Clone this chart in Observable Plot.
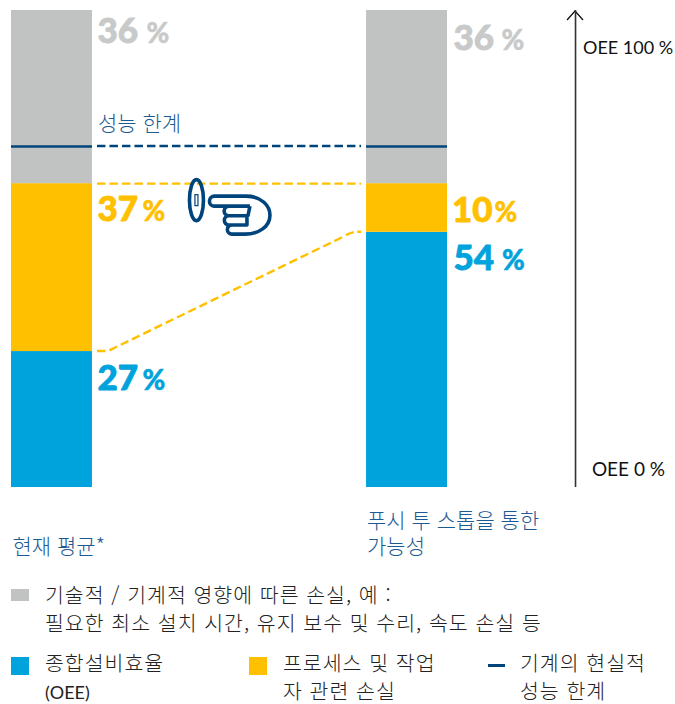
<!DOCTYPE html>
<html lang="ko">
<head>
<meta charset="utf-8">
<script src="https://cdn.jsdelivr.net/npm/d3@7"></script>
<script src="https://cdn.jsdelivr.net/npm/@observablehq/plot@0.6"></script>
<style>
html,body{margin:0;padding:0;background:#fff;overflow:hidden}
#chart svg{display:block;max-width:none}
#legend{position:relative;width:675px;height:134px;font-family:"Noto Sans CJK KR",sans-serif;font-weight:300;font-size:20.5px;letter-spacing:1px;color:#222;line-height:28px}
#legend .t{position:absolute;white-space:nowrap}
#legend .s{position:absolute}
</style>
</head>
<body>
<div id="chart"></div>
<div id="legend"></div>
<script>
// DATA
const scenarios = ["현재 평균*", "푸시 투 스톱을 통한 가능성"];
const parts = ["종합설비효율", "프로세스 및 작업자 관련 손실", "기술적 / 기계적 손실"];
const drawnCurrent = [28.5, 35.2, 36.3];
const drawnPossible = [53.5, 10.2, 36.3];
const printedCurrent = [27, 37, 36];
const printedPossible = [54, 10, 36];
const performanceLimit = 71.5;
const colors = ["#00a3db", "#ffc000", "#c1c3c3"];
const labelColors = ["#00a3db", "#ffc000", "#c8caca"];
const navy = "#00447c";
const captionBlue = "#1d5a92";

const rows = scenarios.flatMap((s, i) => parts.map((p, j) => ({
  scenario: s, part: p,
  value: (i ? drawnPossible : drawnCurrent)[j],
  printed: (i ? printedPossible : printedCurrent)[j],
  top: d3.sum((i ? drawnPossible : drawnCurrent).slice(0, j + 1)),
  color: labelColors[j]
})));

const W = 675, SVGH = 570;
const numFont = "Lato, sans-serif";
const krFont = '"Noto Sans CJK KR", sans-serif';

// text placement: [number dx, percent dx, baseline dy] relative to band centre / segment top
const place = [
  [45.5, 90.5, 38], [45.5, 90.5, 37], [45.5, 94.5, 32],
  [46.5, 95, 38], [45, 87.5, 38], [46.5, 94.5, 39]
];
const labelMarks = rows.flatMap((r, i) => [
  Plot.text([r], {x: "scenario", y: "top", text: d => d.printed, fill: "color", stroke: "color", strokeWidth: 0.8, dx: place[i][0], dy: place[i][2],
    textAnchor: "start", lineAnchor: "bottom", fontFamily: numFont, fontWeight: 900, fontSize: 35, style: {letterSpacing: "-0.5px"}}),
  Plot.text([r], {x: "scenario", y: "top", text: () => "%", fill: "color", stroke: "color", strokeWidth: 0.5, dx: place[i][1], dy: place[i][2],
    textAnchor: "start", lineAnchor: "bottom", fontFamily: numFont, fontWeight: 900, fontSize: 27.5})
]);

function connectors(index, scales) {
  const x = scales.x, y = scales.y, bw = x.bandwidth();
  const xa = x(scenarios[0]) + bw + 5, xb = x(scenarios[1]) - 5;
  const g = d3.create("svg:g").attr("fill", "none");
  const topYellow = d3.sum(drawnCurrent.slice(0, 2));
  g.append("line").attr("x1", xa).attr("x2", xb).attr("y1", y(performanceLimit)).attr("y2", y(performanceLimit))
    .attr("stroke", navy).attr("stroke-width", 2.6).attr("stroke-dasharray", "8.5 4");
  g.append("line").attr("x1", xa).attr("x2", xb).attr("y1", y(topYellow) + 0.5).attr("y2", y(topYellow) + 0.5)
    .attr("stroke", colors[1]).attr("stroke-width", 2.4).attr("stroke-dasharray", "8.5 4");
  const ya = y(drawnCurrent[0]), yb = y(drawnPossible[0]);
  g.append("path")
    .attr("d", `M${xa},${ya}H${xa + 7}Q${xa + 11},${ya} ${xa + 15},${ya - 2}L${xb - 20},${yb + 6}Q${xb - 10},${yb} ${xb - 5},${yb}H${xb}`)
    .attr("stroke", colors[1]).attr("stroke-width", 2.4).attr("stroke-dasharray", "8.5 4");
  // pointing hand icon
  const hand = g.append("g").attr("stroke", navy).attr("stroke-width", 3.6)
    .attr("transform", `translate(${x(scenarios[0]) + bw - 92},${y(topYellow) - 184})`);
  hand.append("ellipse").attr("cx", 196.5).attr("cy", 201).attr("rx", 7).attr("ry", 20.5);
  hand.append("rect").attr("x", 195).attr("y", 195.5).attr("width", 3).attr("height", 11).attr("stroke-width", 1.2);
  hand.append("path").attr("d",
    "M246,197H214.5a4.7,4.7 0 0 0 0,10H250" +
    "M246,197C262,197 270,207 270,216C270,228 258,235 245,235H232a4.5,4.5 0 0 1 0,-9.2H246" +
    "M250,207L248,216.6H229a4.8,4.8 0 0 1 0,-9.6" +
    "M247,216.6V225.8H229a4.6,4.6 0 0 1 0,-9.2").attr("stroke-linejoin","round");
  // axis arrowhead
  const ax = x(scenarios[1]) + bw / 2 + 168.5;
  g.append("path").attr("d", `M${ax - 8},${y(100) + 10}L${ax},${y(100) + 1}L${ax + 8},${y(100) + 10}`)
    .attr("stroke", "#111").attr("stroke-width", 1.3);
  return g.node();
}

const kr = {textAnchor: "start", lineAnchor: "bottom", fontFamily: krFont, fontWeight: 300, fontSize: 21, fill: captionBlue, style: {letterSpacing: "1.5px"}};
const chart = Plot.plot({
  width: W, height: SVGH, margin: 0,
  style: {background: "#fff", overflow: "visible"},
  x: {domain: scenarios, range: [11, 447], paddingInner: 0.772, paddingOuter: 0, round: false, axis: null},
  y: {domain: [0, 100], range: [487, 10], axis: null},
  color: {domain: parts, range: colors},
  marks: [
    Plot.barY(rows, {x: "scenario", y: "value", fill: "part", order: parts}),
    Plot.tickY(scenarios, {x: d => d, y: () => performanceLimit, stroke: navy, strokeWidth: 2.6}),
    connectors,
    Plot.ruleX([scenarios[1]], {x: d => d, y1: 0, y2: 100, dx: 168.5, stroke: "#333", strokeWidth: 1.6}),
    Plot.text(["OEE 100 %"], {x: () => scenarios[1], y: () => 100, dx: 176, dy: 43, textAnchor: "start", lineAnchor: "bottom", fontFamily: numFont, fontSize: 18, fill: "#111"}),
    Plot.text(["OEE 0 %"], {x: () => scenarios[1], y: () => 0, dx: 258, dy: -12, textAnchor: "end", lineAnchor: "bottom", fontFamily: numFont, fontSize: 19, fill: "#111"}),
    Plot.text(["성능 한계"], {...kr, x: () => scenarios[0], y: () => performanceLimit, dx: 46, dy: -15}),
    Plot.text(["현재 평균*"], {...kr, x: () => scenarios[0], y: () => 0, dx: -39.5, dy: 66}),
    Plot.text(["푸시 투 스톱을 통한"], {...kr, x: () => scenarios[1], y: () => 0, dx: -40, dy: 40}),
    Plot.text(["가능성"], {...kr, x: () => scenarios[1], y: () => 0, dx: -40, dy: 66}),
    ...labelMarks
  ]
});
document.getElementById("chart").append(chart);

const legend = document.getElementById("legend");
const top0 = SVGH;
function sq(x, y, w, h, c) {
  const d = document.createElement("div"); d.className = "s";
  d.style.cssText = `left:${x}px;top:${y - top0}px;width:${w}px;height:${h}px;background:${c}`;
  legend.append(d);
}
function tx(x, y, html) {
  const d = document.createElement("div"); d.className = "t";
  d.style.cssText = `left:${x}px;top:${y - top0}px`;
  d.innerHTML = html; legend.append(d);
}
sq(11, 589, 18, 12, colors[2]);
sq(11, 657, 18, 18, colors[0]);
sq(249, 657, 18, 18, colors[1]);
sq(488, 664, 17, 2.5, navy);
tx(45, 580, "기술적 / 기계적 영향에 따른 손실, 예 :<br>필요한 최소 설치 시간, 유지 보수 및 수리, 속도 손실 등");
tx(45, 648, '종합설비효율<br><span style="font-family:Lato;font-weight:400;font-size:18px;letter-spacing:0">(OEE)</span>');
tx(283, 648, "프로세스 및 작업<br>자 관련 손실");
tx(520, 648, "기계의 현실적<br>성능 한계");
</script>
</body>
</html>
